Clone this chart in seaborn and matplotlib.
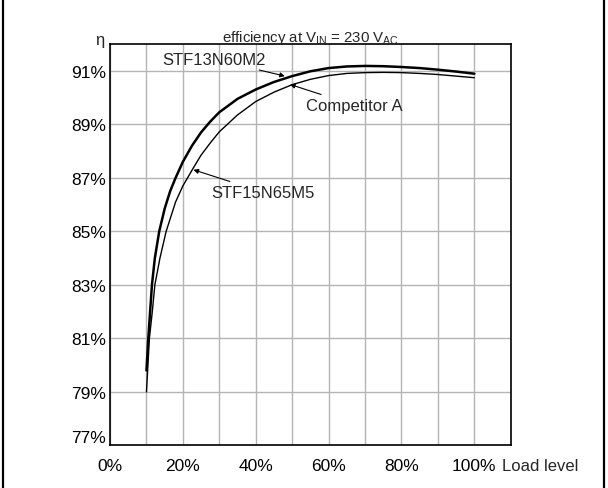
import numpy as np
import pandas as pd
import matplotlib
matplotlib.use('Agg')
import matplotlib.pyplot as plt
import seaborn as sns
from matplotlib.lines import Line2D

sns.set_theme(style='white')
plt.rcParams['font.family'] = ['Liberation Sans', 'DejaVu Sans']
plt.rcParams['mathtext.default'] = 'regular'

# efficiency curves (load %, efficiency %)
load_m2 = [10, 10.5, 11.5, 12.3, 13.5, 15, 16.5, 18, 20, 22.5, 25, 27.5, 30, 35, 40, 45, 50,
           55, 60, 65, 70, 75, 80, 85, 90, 95, 100]
eff_m2 = [79.8, 81.0, 83.0, 84.0, 85.0, 85.85, 86.5, 87.0, 87.6, 88.2, 88.7, 89.1, 89.45, 89.95, 90.3, 90.58, 90.8,
          90.98, 91.1, 91.16, 91.18, 91.17, 91.14, 91.1, 91.04, 90.97, 90.89]

load_m5 = [10, 10.8, 11.6, 12.3, 13.7, 15.4, 18, 20, 23, 25, 27.5, 30, 35, 40, 45, 50,
           55, 60, 65, 70, 75, 80, 85, 90, 95, 100]
eff_m5 = [79.0, 81.0, 82.0, 83.0, 84.0, 85.0, 86.1, 86.7, 87.4, 87.85, 88.3, 88.72, 89.35, 89.85, 90.2, 90.48,
          90.68, 90.82, 90.9, 90.93, 90.94, 90.93, 90.9, 90.86, 90.8, 90.74]

x_ticks = [0, 20, 40, 60, 80, 100]
y_ticks = [77, 79, 81, 83, 85, 87, 89, 91]

df_m2 = pd.DataFrame({'load': load_m2, 'eff': eff_m2})
df_m5 = pd.DataFrame({'load': load_m5, 'eff': eff_m5})

fig = plt.figure(figsize=(6.08, 4.89), dpi=100)
ax = fig.add_axes([0.181, 0.087, 0.659, 0.821])

sns.lineplot(data=df_m5, x='load', y='eff', ax=ax, color='black', lw=1.0, sort=False)
sns.lineplot(data=df_m2, x='load', y='eff', ax=ax, color='black', lw=1.8, sort=False)

ax.set_xlim(0, 110)
ax.set_ylim(77, 92)
ax.set_xticks(range(0, 111, 10))
ax.set_yticks(y_ticks)
ax.set_xticklabels([f'{v}%' if v in x_ticks else '' for v in range(0, 111, 10)])
ax.set_yticklabels([f'{v}%' for v in y_ticks])
ax.tick_params(length=0, labelsize=12.5, colors='black')
ax.tick_params(axis='y', pad=3)
ax.tick_params(axis='x', pad=9)
ax.get_yticklabels()[0].set_verticalalignment('bottom')
ax.grid(True, color='#b4b4b4', lw=1.0)
ax.set_axisbelow(True)
for s in ax.spines.values():
    s.set_color('black')
    s.set_linewidth(1.2)
ax.set_xlabel('')
ax.set_ylabel('')

ax.set_title('efficiency at V$_{IN}$ = 230 V$_{AC}$', fontsize=10.8, pad=2)
ax.text(-2.7, 92.15, 'η', ha='center', va='center', fontsize=12, clip_on=False)
ax.annotate('Load level', xy=(107.5, 77), xytext=(0, -9), textcoords='offset points',
            ha='left', va='top', fontsize=12, annotation_clip=False)

arrow = dict(arrowstyle='-|>', color='black', lw=0.8, mutation_scale=7, shrinkA=0, shrinkB=0)
ax.annotate('STF13N60M2', xy=(48, 90.8), xytext=(14.3, 91.43), ha='left', va='center',
            fontsize=12, arrowprops=arrow)
ax.annotate('Competitor A', xy=(49.4, 90.49), xytext=(53.8, 89.71), ha='left', va='center',
            fontsize=12, arrowprops=arrow)
ax.annotate('STF15N65M5', xy=(22.9, 87.3), xytext=(27.9, 86.46), ha='left', va='center',
            fontsize=12, arrowprops=arrow)

# outer frame lines
fig.add_artist(Line2D([0.005, 0.005], [0, 1], transform=fig.transFigure, color='black', lw=1.6))
fig.add_artist(Line2D([0.994, 0.994], [0, 1], transform=fig.transFigure, color='black', lw=1.6))

fig.savefig('out.png', dpi=100)
